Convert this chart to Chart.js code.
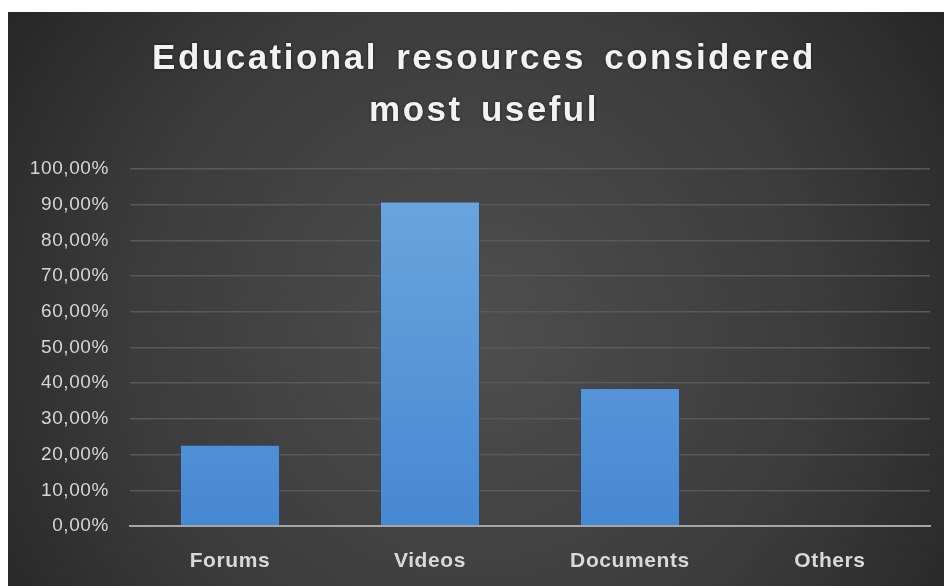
<!DOCTYPE html>
<html>
<head>
<meta charset="utf-8">
<script src="https://cdn.jsdelivr.net/npm/chart.js@4.4.1/dist/chart.umd.min.js"></script>
<style>
    html, body { margin: 0; padding: 0; background: #ffffff; }
    #wrap { position: absolute; left: 8px; top: 12px; width: 936px; height: 574px; }
</style>
</head>
<body>
<div id="wrap"><canvas id="chart_res"></canvas></div>
<script>

var titleLines = ['Educational resources considered', 'most useful'];
var categories = ['Forums', 'Videos', 'Documents', 'Others'];
var shares = [22.73, 90.91, 38.64, 0];
var yTicks = [0, 10, 20, 30, 40, 50, 60, 70, 80, 90, 100];

// dark radial background + spaced text
var bgPlugin = {
    id: 'bg',
    beforeUpdate: (chart)=>{
        chart.ctx.letterSpacing = '0.6px';
    },
    beforeDraw: (chart)=>{
        let ctx = chart.ctx;
        let w = chart.width, h = chart.height;
        ctx.save();
        let g = ctx.createRadialGradient(w*0.5, h*0.55, 0, w*0.5, h*0.55, w*0.62);
        g.addColorStop(0, '#4e4e4e');
        g.addColorStop(0.6, '#3b3b3b');
        g.addColorStop(1, '#252525');
        ctx.fillStyle = g;
        ctx.fillRect(0, 0, w, h);
        ctx.restore();
    },
    afterDraw: (chart)=>{
        let ctx = chart.ctx;
        ctx.save();
        ctx.letterSpacing = '2.5px';
        ctx.wordSpacing = '6px';
        ctx.font = 'bold 35px "Liberation Sans"';
        ctx.fillStyle = '#f2f2f2';
        ctx.textAlign = 'center';
        ctx.textBaseline = 'middle';
        ctx.shadowColor = 'rgba(0,0,0,0.6)';
        ctx.shadowBlur = 3;
        ctx.fillText(titleLines[0], 476, 47);
        ctx.fillText(titleLines[1], 476, 99);
        ctx.restore();
    }
};

function barGradient(context) {
    let area = context.chart.chartArea;
    if (!area) return '#5b9bd5';
    let g = context.chart.ctx.createLinearGradient(0, area.top, 0, area.bottom);
    g.addColorStop(0, '#6ea7df');
    g.addColorStop(1, '#4788d2');
    return g;
}

new Chart(document.getElementById('chart_res').getContext('2d'), {
    type: 'bar',
    data: {
        labels: categories,
        datasets: [
            {
                label: 'Share',
                data: shares,
                backgroundColor: barGradient,
                borderColor: 'rgba(40,70,110,0.5)',
                borderWidth: 1,
                categoryPercentage: 0.5,
                barPercentage: 1.0,
            }
        ],
    },
    options: {
        responsive: true,
        maintainAspectRatio: false,
        animation: false,
        layout: {
            padding: { top: 157, right: 14, left: 0, bottom: 0 }
        },
        plugins: {
            legend: { display: false },
            title: { display: false },
            tooltip: { enabled: false }
        },
        scales: {
            y: {
                min: 0,
                max: 100,
                afterBuildTicks: (scale)=>{
                    scale.ticks = yTicks.map(v => ({ value: v }));
                },
                afterFit: (scale)=>{ scale.width = 122; },
                border: { display: false },
                grid: {
                    color: (c)=> c.index === 0 ? 'rgba(0,0,0,0)' : '#595959',
                    lineWidth: 1.5,
                    drawTicks: false,
                },
                ticks: {
                    padding: 21,
                    color: '#d6d6d6',
                    font: { family: '"Liberation Sans"', size: 19 },
                    callback: (v)=> v.toFixed(2).replace('.', ',') + '%'
                }
            },
            x: {
                afterFit: (scale)=>{ scale.height = 60; },
                border: { display: true, color: '#a6a6a6', width: 2 },
                grid: { display: false, drawTicks: false },
                ticks: {
                    padding: 23,
                    color: '#d9d9d9',
                    font: { family: '"Liberation Sans"', size: 21, weight: 'bold' }
                }
            }
        }
    },
    plugins: [bgPlugin]
});

</script>
</body>
</html>
